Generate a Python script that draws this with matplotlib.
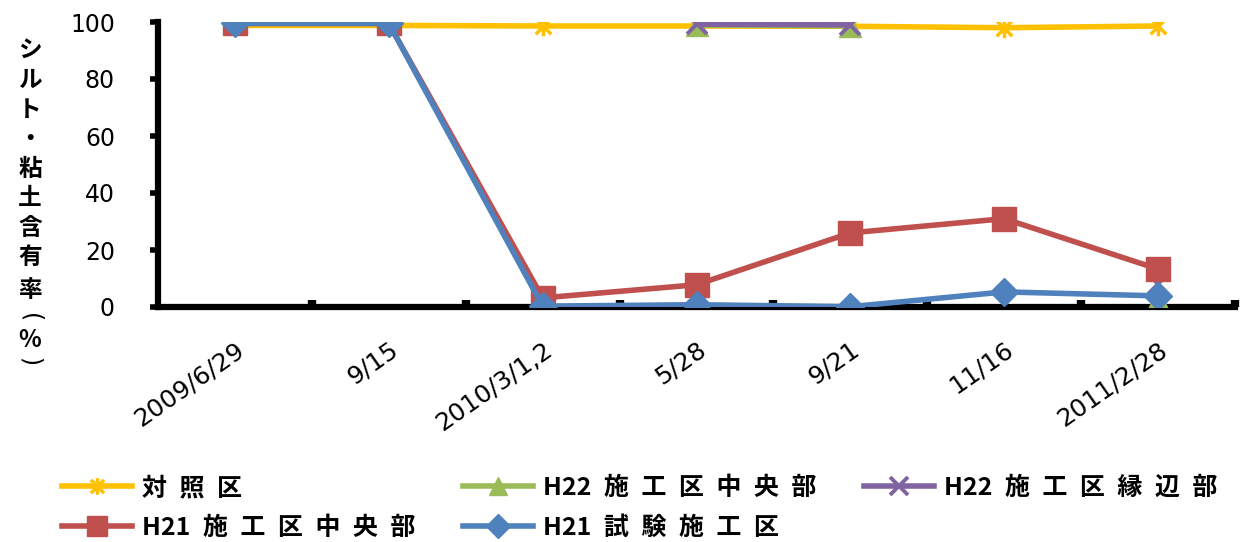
import numpy as np
import matplotlib
matplotlib.use("Agg")
import matplotlib.pyplot as plt
from matplotlib.path import Path

plt.rcParams['font.family'] = ['Noto Sans CJK JP', 'DejaVu Sans']

dates = ["2009/6/29", "9/15", "2010/3/1,2", "5/28", "9/21", "11/16", "2011/2/28"]
nan = np.nan

control = [98.8, 98.8, 98.6, 98.6, 98.5, 98.0, 98.6]
h22_center = [nan, nan, nan, 99.0, 98.6, nan, 2.5]
h22_edge = [nan, nan, nan, 99.2, 99.0, nan, 8.0]
h21_center = [99.5, 99.5, 3.2, 7.8, 26.0, 31.0, 13.3]
h21_trial = [99.5, 99.5, 0.3, 0.8, 0.1, 5.3, 3.9]

names = ["対照区", "H22施工区中央部", "H22施工区縁辺部", "H21施工区中央部", "H21試験施工区"]
colors = ["#FFC000", "#9BBB59", "#8064A2", "#C0504D", "#4F81BD"]
ylabel = "シルト・粘土含有率（%）"


def spaced(s, gap="\u2002"):
    """Open up the letter spacing, leaving runs of ASCII characters tight."""
    out = s[0]
    for a, b in zip(s, s[1:]):
        if not (a.isascii() and b.isascii()):
            out += gap
        out += b
    return out


# six-armed asterisk: a vertical bar plus a diagonal cross
star_path = Path(
    [(0, -1), (0, 1), (-0.8, -0.8), (0.8, 0.8), (-0.8, 0.8), (0.8, -0.8)],
    [Path.MOVETO, Path.LINETO, Path.MOVETO, Path.LINETO, Path.MOVETO, Path.LINETO],
)

fig = plt.figure(figsize=(12.41, 5.42), dpi=100)
ax = fig.add_axes([158 / 1241, 1 - 307 / 542, (1235 - 158) / 1241, (307 - 22) / 542])

x = np.arange(len(dates))
lw = 4.0
handles = {}
handles[names[0]], = ax.plot(x, control, color=colors[0], lw=lw, marker=star_path, ms=14,
                             mec=colors[0], mew=2.5, zorder=3)
handles[names[1]], = ax.plot(x, h22_center, color=colors[1], lw=lw, marker="^", ms=16,
                             mec=colors[1], zorder=4)
handles[names[2]], = ax.plot(x, h22_edge, color=colors[2], lw=lw, marker="x", ms=15,
                             mec=colors[2], mew=2.8, zorder=5)
handles[names[3]], = ax.plot(x, h21_center, color=colors[3], lw=lw, marker="s", ms=17,
                             mec=colors[3], zorder=6)
handles[names[4]], = ax.plot(x, h21_trial, color=colors[4], lw=lw, marker="D", ms=14,
                             mec=colors[4], zorder=7)

ax.set_xlim(-0.5, len(dates) - 0.5)
ax.set_ylim(0, 100)
ax.set_yticks(range(0, 101, 20))
ax.set_xticks(x)
ax.set_xticklabels(dates, rotation=35, ha="right", rotation_mode="anchor",
                   fontsize=18, family="DejaVu Sans")
ax.set_xticks(np.arange(0.5, len(dates), 1.0), minor=True)
ax.tick_params(axis="x", which="major", length=0, pad=22)
ax.tick_params(axis="x", which="minor", direction="in", length=5, width=6)
ax.tick_params(axis="y", direction="out", length=6, width=4, labelsize=17, pad=25)
for lab in ax.get_yticklabels():
    lab.set_family("DejaVu Sans")

for s in ("top", "right"):
    ax.spines[s].set_visible(False)
for s in ("left", "bottom"):
    ax.spines[s].set_linewidth(4.5)
    ax.spines[s].set_capstyle("projecting")

# vertical axis title, one character per line; brackets turned for vertical writing
ypos = [50, 80, 110, 139, 169, 198, 228, 257, 290, 318, 340, 362]
for ch, yp in zip(ylabel, ypos):
    rot = 0
    fam = None
    if ch in "（）":
        ch = "(" if ch == "（" else ")"
        rot = -90
        fam = "DejaVu Sans"
    t = fig.text(30 / 1241, 1 - yp / 542, ch, ha="center", va="center",
                 fontsize=17, fontweight="bold", rotation=rot)
    if fam:
        t.set_family(fam)
        t.set_fontweight("normal")

order = [names[0], names[3], names[1], names[4], names[2]]
fig.legend([handles[n] for n in order], [spaced(n) for n in order], loc="upper left",
           bbox_to_anchor=(62 / 1241, 1 - 476 / 542), ncol=3, frameon=False,
           borderpad=0, borderaxespad=0,
           prop={"size": 18, "weight": "bold"}, handlelength=2.8, handletextpad=0.4,
           columnspacing=1.9, labelspacing=0.64, markerscale=0.85)

fig.savefig("out.png", dpi=100)
